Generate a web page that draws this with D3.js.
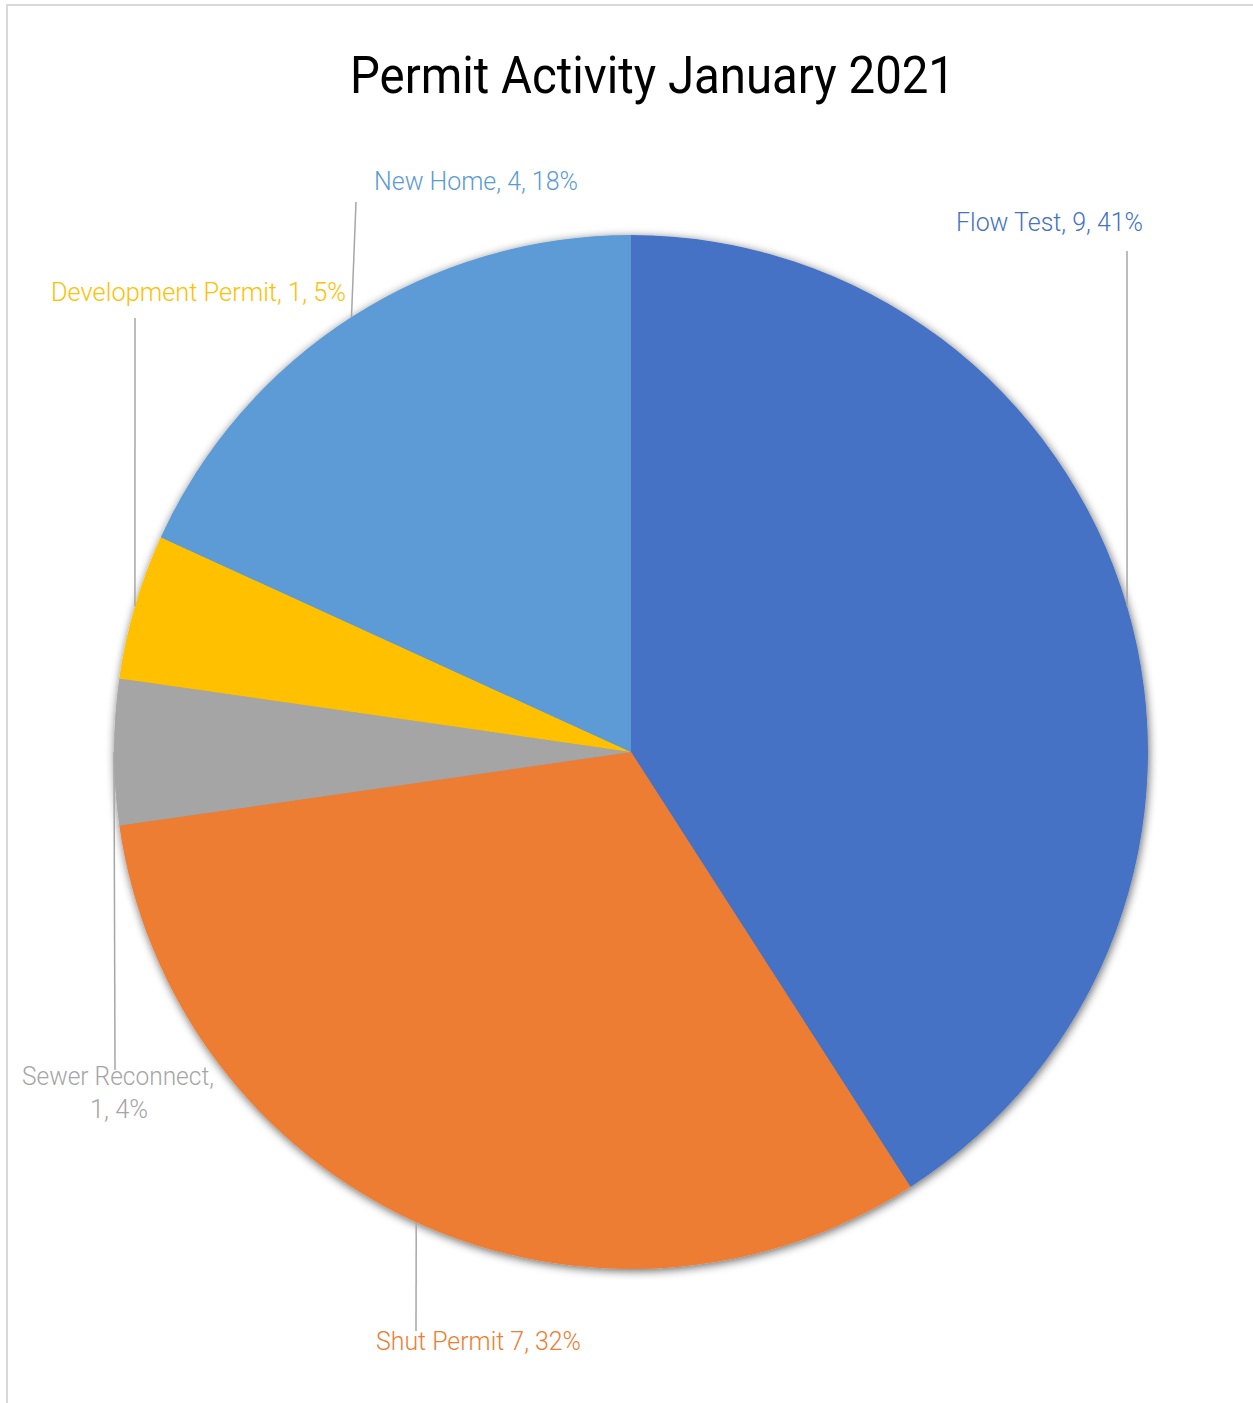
<!DOCTYPE html>
<html>
<head>
<meta charset="utf-8">
<script src="https://cdn.jsdelivr.net/npm/d3@7"></script>
<style>
  html, body { margin: 0; padding: 0; background: #fff; overflow: hidden; }
  svg { display: block; }
  text { font-family: Roboto, "Liberation Sans", sans-serif; }
</style>
</head>
<body>
<div id="chart"></div>
<script>
// ---- data ----
const categories = ["Flow Test", "Shut Permit", "Sewer Reconnect", "Development Permit", "New Home"];
const values = [9, 7, 1, 1, 4];
const pctLabels = ["41%", "32%", "4%", "5%", "18%"];
const nameSeparators = [", ", " ", ", ", ", ", ", "];
const colors = ["#4472C4", "#ED7D31", "#A5A5A5", "#FFC000", "#5B9BD5"];
const title = "Permit Activity January 2021";

// ---- layout ----
const W = 1253, H = 1403;
const cx = 631, cy = 752, R = 517;
// label layout: [leftX, baselineY, textLength], leader start point
const labelLayout = [
  { lines: [[956, 231, 187]], lead: [1127, 251] },
  { lines: [[376, 1350, 205]], lead: [416, 1331] },
  { lines: [[22, 1085, 192], [90, 1118, 58]], lead: [115, 1070] },
  { lines: [[51, 301, 295]], lead: [135, 318] },
  { lines: [[374, 190, 204]], lead: [356, 202] }
];

const svg = d3.select("#chart").append("svg").attr("width", W).attr("height", H);

// border
svg.append("rect").attr("x", 7).attr("y", 5).attr("width", 1400).attr("height", 1500)
  .attr("fill", "none").attr("stroke", "#D9D9D9").attr("stroke-width", 2);

// title
svg.append("text").attr("x", 350).attr("y", 93)
  .attr("font-size", 52).attr("font-weight", 400).attr("fill", "#000")
  .attr("textLength", 605).attr("lengthAdjust", "spacingAndGlyphs")
  .text(title);

// shadow filter
const defs = svg.append("defs");
const f = defs.append("filter").attr("id", "shadow")
  .attr("x", "-10%").attr("y", "-10%").attr("width", "120%").attr("height", "120%");
f.append("feGaussianBlur").attr("in", "SourceAlpha").attr("stdDeviation", 5).attr("result", "blur");
f.append("feOffset").attr("in", "blur").attr("dx", 1).attr("dy", 2).attr("result", "off");
f.append("feComponentTransfer").attr("in", "off").attr("result", "soft")
  .append("feFuncA").attr("type", "linear").attr("slope", 0.6);
const m = f.append("feMerge");
m.append("feMergeNode").attr("in", "soft");
m.append("feMergeNode").attr("in", "SourceGraphic");

const data = categories.map((c, i) => ({ name: c, value: values[i], i }));
const pie = d3.pie().value(d => d.value).sort(null).startAngle(0).endAngle(2 * Math.PI);
const arcs = pie(data);
const arc = d3.arc().innerRadius(0).outerRadius(R);
const edgeArc = d3.arc().innerRadius(R).outerRadius(R);

const g = svg.append("g").attr("transform", `translate(${cx},${cy})`);
g.append("g").attr("filter", "url(#shadow)")
  .selectAll("path").data(arcs).join("path")
  .attr("d", arc)
  .attr("fill", d => colors[d.data.i]);

// leader lines
svg.append("g").selectAll("line").data(arcs).join("line")
  .attr("x1", d => labelLayout[d.data.i].lead[0])
  .attr("y1", d => labelLayout[d.data.i].lead[1])
  .attr("x2", d => cx + edgeArc.centroid(d)[0])
  .attr("y2", d => cy + edgeArc.centroid(d)[1])
  .attr("stroke", "#A6A6A6").attr("stroke-width", 1.5);

// labels
arcs.forEach(d => {
  const i = d.data.i;
  const full = categories[i] + nameSeparators[i] + values[i] + ", " + pctLabels[i];
  const lay = labelLayout[i].lines;
  const parts = lay.length === 2
    ? [categories[i] + ",", values[i] + ", " + pctLabels[i]]
    : [full];
  parts.forEach((t, k) => {
    svg.append("text")
      .attr("x", lay[k][0]).attr("y", lay[k][1])
      .attr("font-size", 26).attr("font-weight", 300)
      .attr("fill", colors[i])
      .attr("textLength", lay[k][2]).attr("lengthAdjust", "spacingAndGlyphs")
      .text(t);
  });
});
</script>
</body>
</html>
